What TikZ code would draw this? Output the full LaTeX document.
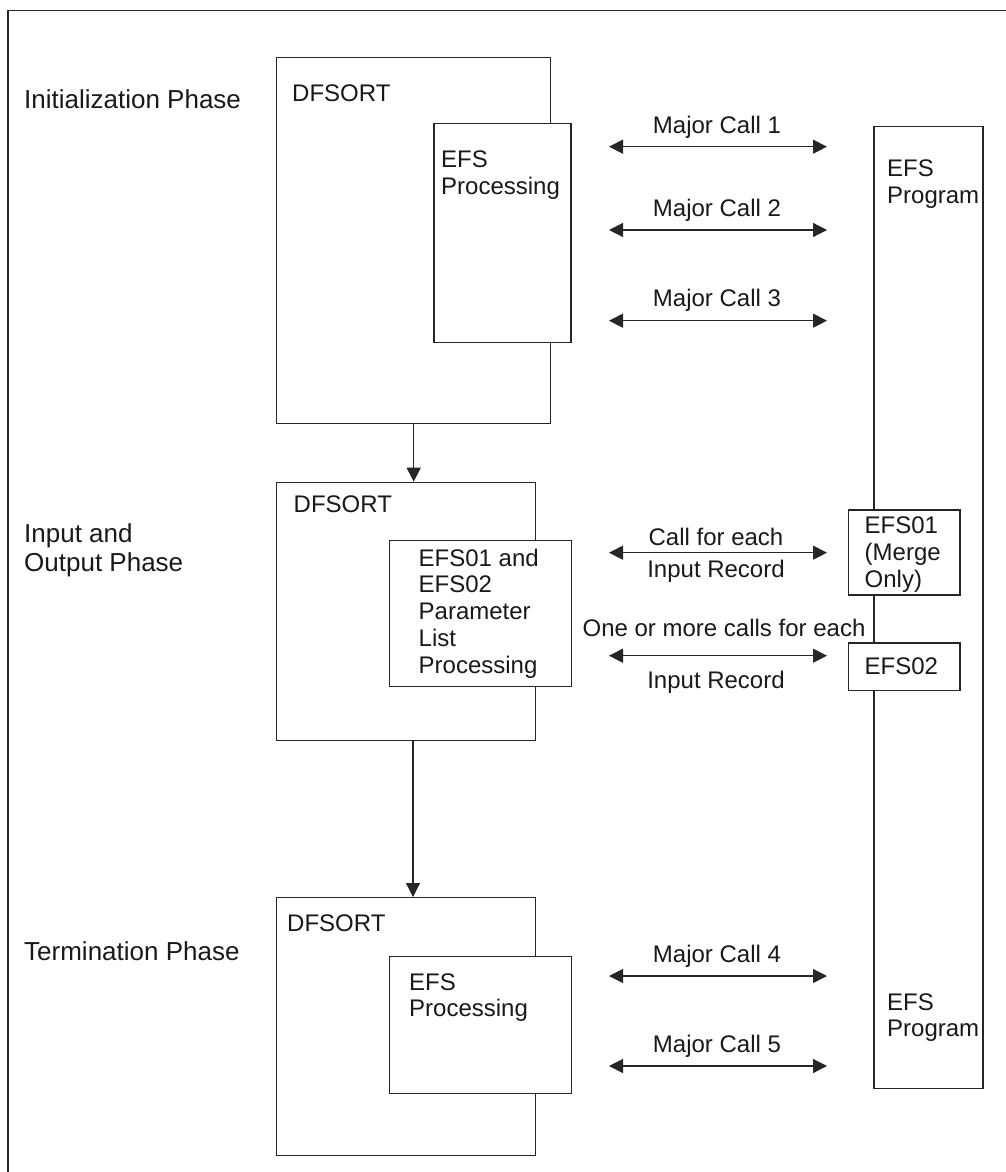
\documentclass[tikz,border=0pt]{standalone}
\usepackage{fontspec}
\setmainfont{Liberation Sans}
\usetikzlibrary{arrows.meta}
\begin{document}
\begin{tikzpicture}[x=1pt,y=-1pt,
  box/.style={draw=black!85, line width=1.2pt, fill=white, rectangle, inner sep=0pt, anchor=north west},
  txt/.style={inner sep=0pt, anchor=base west, align=left, text=black!90,
     font=\fontsize{24}{26.7}\selectfont},
  ctxt/.style={inner sep=0pt, anchor=base, text=black!90, font=\fontsize{24}{26.7}\selectfont},
  phase/.style={inner sep=0pt, anchor=base west, align=left, text=black!90,
     font=\fontsize{26}{29}\selectfont},
  tip/.style={Triangle[length=14pt,width=14pt]},
  dbl/.style={draw=black!85, line width=1.2pt, {Triangle[length=14pt,width=14pt]}-{Triangle[length=14pt,width=14pt]}},
  flow/.style={draw=black!85, line width=1.2pt, -{Triangle[length=14pt,width=14pt]}}
]
\useasboundingbox (0,0) rectangle (1005,1172);
% outer frame (cut off at right and bottom)
\draw[black!85, line width=1.5pt] (8,1180) -- (8,10.7) -- (1015,10.7);

% EFS program column
\node[box, minimum width=109pt, minimum height=962.3pt] (prog) at (873.3,125.7) {};
\node[box, minimum width=111.6pt, minimum height=85pt] (e1) at (847.7,509.3) {};
\node[box, minimum width=111.6pt, minimum height=47.7pt] (e2) at (847.7,642.3) {};

% DFSORT boxes
\node[box, minimum width=274pt, minimum height=365.7pt] (b1) at (276,57) {};
\node[box, minimum width=137pt, minimum height=219pt] (i1) at (433.3,123) {};
\node[box, minimum width=259pt, minimum height=258.3pt] (b2) at (276,481.7) {};
\node[box, minimum width=182.5pt, minimum height=146pt] (i2) at (388.7,540) {};
\node[box, minimum width=259pt, minimum height=258pt] (b3) at (276,897) {};
\node[box, minimum width=182.5pt, minimum height=137.3pt] (i3) at (388.7,955.7) {};

% texts (multi-line nodes: base = last line)
\node[phase] (p1) at (24,108.3) {Initialization Phase};
\node[phase] (p2) at (24,571.7) {Input and\\Output Phase};
\node[phase] (p3) at (24,960) {Termination Phase};

\node[txt] (d1) at (292,101.7) {DFSORT};
\node[txt] (d2) at (293.5,512) {DFSORT};
\node[txt] (d3) at (287,931.7) {DFSORT};

\node[txt] (t1) at (441,194) {EFS\\Processing};
\node[txt] (t2) at (418.5,673) {EFS01 and\\EFS02\\Parameter\\List\\Processing};
\node[txt] (t3) at (409,1016.7) {EFS\\Processing};

\node[txt] (g1) at (887,203) {EFS\\Program};
\node[txt] (g2) at (887,1036.7) {EFS\\Program};
\node[txt] (te1) at (864.5,587.3) {EFS01\\(Merge\\Only)};
\node[txt] (te2) at (864.5,674) {EFS02};

% call arrows
\coordinate (l1) at (609,146.7); \coordinate (r1) at (827,146.7);
\coordinate (l2) at (609,230);   \coordinate (r2) at (827,230);
\coordinate (l3) at (609,320.7); \coordinate (r3) at (827,320.7);
\coordinate (l4) at (609,552.7); \coordinate (r4) at (827,552.7);
\coordinate (l5) at (609,655.7); \coordinate (r5) at (827,655.7);
\coordinate (l6) at (609,976);   \coordinate (r6) at (827,976);
\coordinate (l7) at (609,1066);  \coordinate (r7) at (827,1066);
\draw[dbl] (l1) -- (r1);
\draw[dbl] (l2) -- (r2);
\draw[dbl] (l3) -- (r3);
\draw[dbl] (l4) -- (r4);
\draw[dbl] (l5) -- (r5);
\draw[dbl] (l6) -- (r6);
\draw[dbl] (l7) -- (r7);

\node[ctxt] (m1) at (717,133.3) {Major Call 1};
\node[ctxt] (m2) at (717,216.7) {Major Call 2};
\node[ctxt] (m3) at (717,306) {Major Call 3};
\node[ctxt] (c1) at (716,545.7) {Call for each};
\node[ctxt] (c2) at (716,577) {Input Record};
\node[ctxt] (o1) at (724,636) {One or more calls for each};
\node[ctxt] (o2) at (716,688) {Input Record};
\node[ctxt] (m4) at (717,962.7) {Major Call 4};
\node[ctxt] (m5) at (717,1052.7) {Major Call 5};

% flow arrows
\draw[flow] (b1.south -| 413.7,0) -- (b2.north -| 413.7,0);
\draw[flow] (b2.south -| 413,0) -- (b3.north -| 413,0);
\end{tikzpicture}
\end{document}
